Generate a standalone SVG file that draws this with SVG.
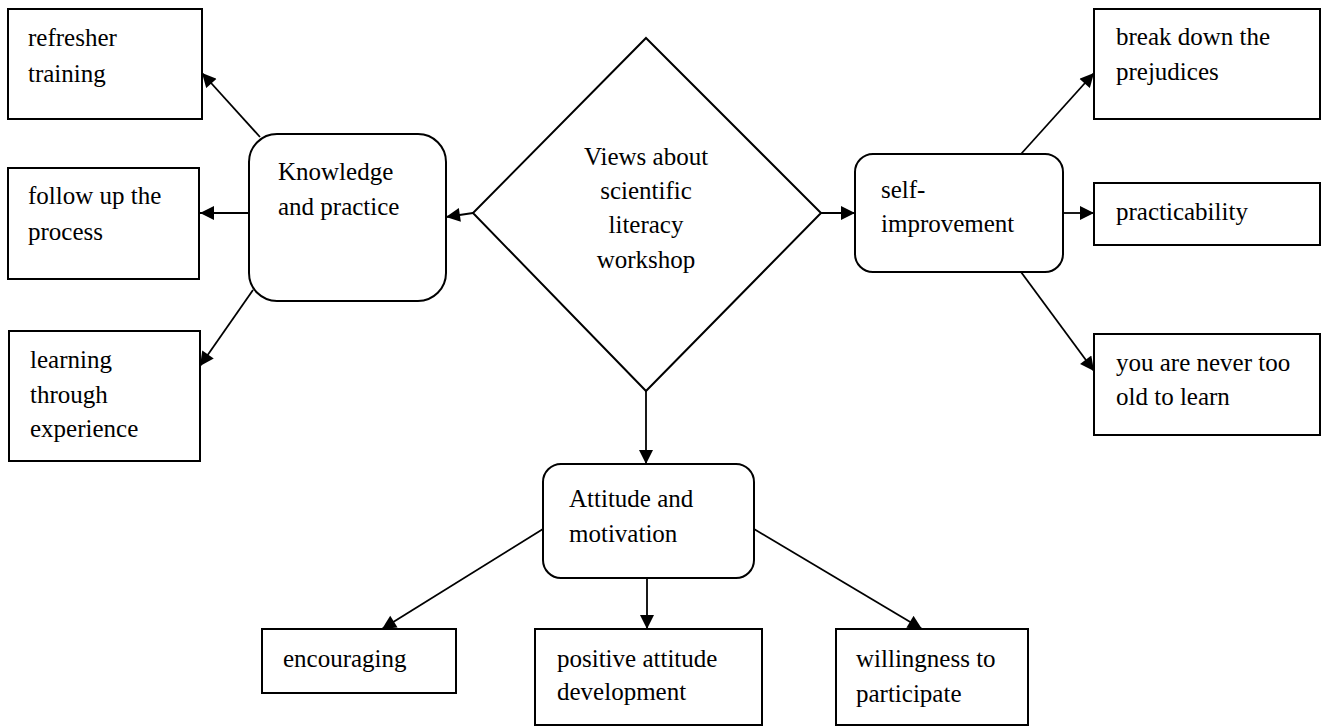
<svg xmlns="http://www.w3.org/2000/svg" width="1322" height="726" viewBox="0 0 1322 726">
<style>
.b{fill:#fff;stroke:#000;stroke-width:2}
.t{font-family:"Liberation Serif","Times New Roman",serif;font-size:25px;fill:#000}
.c{text-anchor:middle}
.e{fill:none;stroke:#000;stroke-width:1.8;marker-end:url(#ah)}
</style>
<defs>
<marker id="ah" viewBox="0 0 10 10" refX="10" refY="5" markerWidth="16" markerHeight="14" markerUnits="userSpaceOnUse" orient="auto">
<path d="M0,0 L10,5 L0,10 Z" fill="#000"/>
</marker>
</defs>
<rect width="1322" height="726" fill="#fff"/>
<g id="connectors">
<line class="e" x1="473" y1="213" x2="446" y2="217"/>
<line class="e" x1="821" y1="213" x2="855" y2="213"/>
<line class="e" x1="646" y1="391" x2="646" y2="464"/>
<line class="e" x1="260" y1="137" x2="202" y2="73"/>
<line class="e" x1="249" y1="213" x2="200" y2="213"/>
<line class="e" x1="253" y1="290" x2="200" y2="366"/>
<line class="e" x1="1021" y1="154" x2="1094" y2="73"/>
<line class="e" x1="1063" y1="213" x2="1094" y2="213"/>
<line class="e" x1="1021" y1="272" x2="1094" y2="371"/>
<line class="e" x1="543" y1="529" x2="382" y2="629"/>
<line class="e" x1="647" y1="578" x2="647" y2="629"/>
<line class="e" x1="754" y1="529" x2="922" y2="629"/>
</g>
<g id="center">
<polygon class="b" points="646,38 821,213 646,391 473,213"/>
<text class="t c" x="646" y="165">Views about</text>
<text class="t c" x="646" y="199">scientific</text>
<text class="t c" x="646" y="233">literacy</text>
<text class="t c" x="646" y="268">workshop</text>
</g>
<g id="knowledge">
<rect class="b" x="249" y="134" width="197" height="167" rx="28"/>
<text class="t" x="278" y="180">Knowledge</text>
<text class="t" x="278" y="215">and practice</text>
</g>
<g id="refresher">
<rect class="b" x="8" y="9" width="194" height="110"/>
<text class="t" x="28" y="46">refresher</text>
<text class="t" x="28" y="82">training</text>
</g>
<g id="followup">
<rect class="b" x="8" y="168" width="191" height="111"/>
<text class="t" x="28" y="204">follow up the</text>
<text class="t" x="28" y="240">process</text>
</g>
<g id="learning">
<rect class="b" x="9" y="331" width="191" height="130"/>
<text class="t" x="30" y="368">learning</text>
<text class="t" x="30" y="403">through</text>
<text class="t" x="30" y="437">experience</text>
</g>
<g id="selfimprovement">
<rect class="b" x="855" y="154" width="208" height="118" rx="18"/>
<text class="t" x="881" y="198">self-</text>
<text class="t" x="881" y="232">improvement</text>
</g>
<g id="breakdown">
<rect class="b" x="1094" y="9" width="226" height="110"/>
<text class="t" x="1116" y="45">break down the</text>
<text class="t" x="1116" y="80">prejudices</text>
</g>
<g id="practicability">
<rect class="b" x="1094" y="183" width="226" height="62"/>
<text class="t" x="1116" y="220">practicability</text>
</g>
<g id="neverold">
<rect class="b" x="1094" y="334" width="226" height="101"/>
<text class="t" x="1116" y="371">you are never too</text>
<text class="t" x="1116" y="405">old to learn</text>
</g>
<g id="attitude">
<rect class="b" x="543" y="464" width="211" height="114" rx="18"/>
<text class="t" x="569" y="507">Attitude and</text>
<text class="t" x="569" y="542">motivation</text>
</g>
<g id="encouraging">
<rect class="b" x="262" y="629" width="194" height="64"/>
<text class="t" x="283" y="667">encouraging</text>
</g>
<g id="positive">
<rect class="b" x="535" y="629" width="227" height="96"/>
<text class="t" x="557" y="667">positive attitude</text>
<text class="t" x="557" y="700">development</text>
</g>
<g id="willingness">
<rect class="b" x="836" y="629" width="192" height="96"/>
<text class="t" x="856" y="667">willingness to</text>
<text class="t" x="856" y="702">participate</text>
</g>
</svg>
